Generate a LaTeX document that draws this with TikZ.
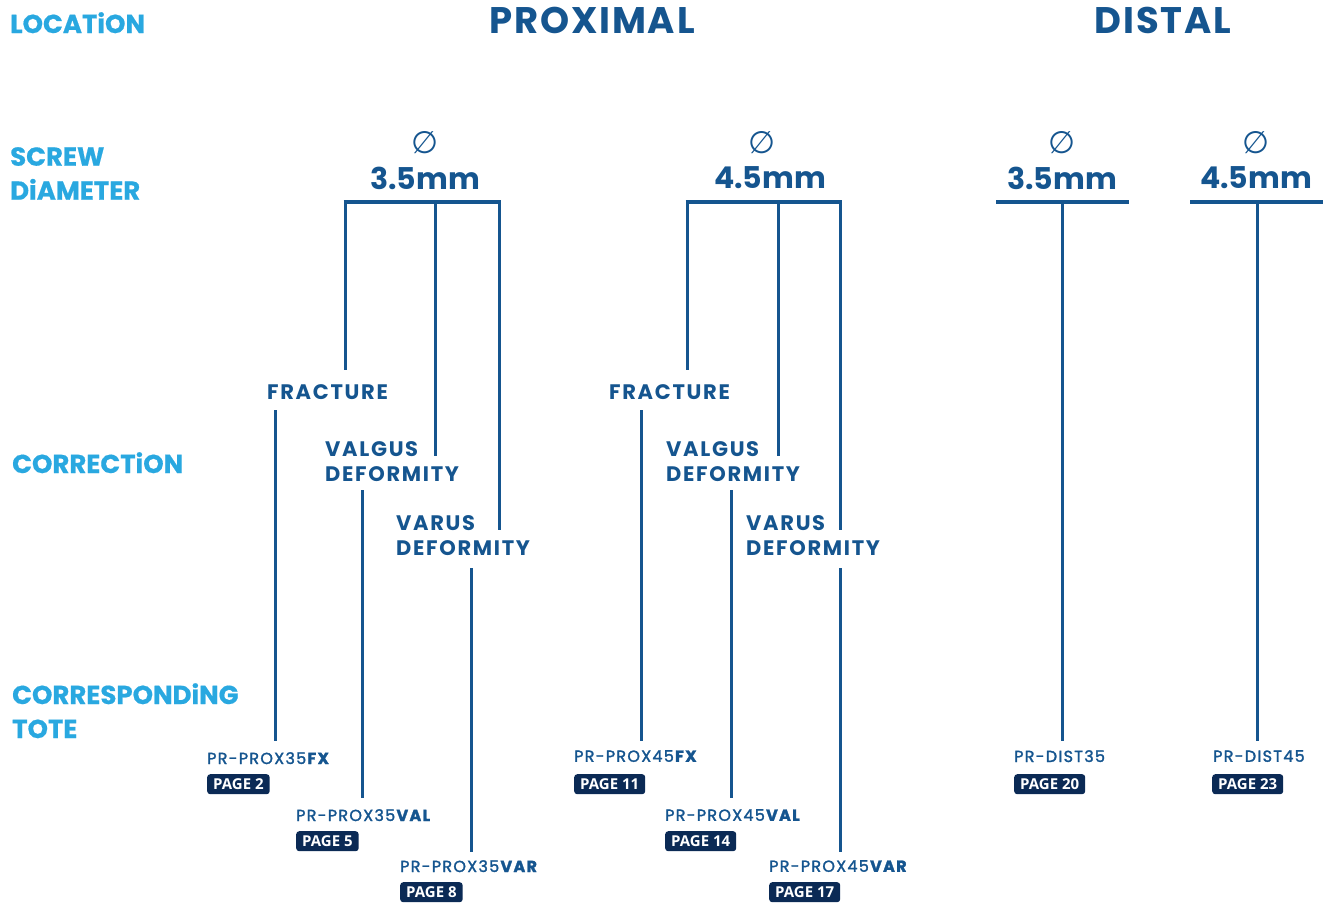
\documentclass[tikz,border=0pt]{standalone}
\usepackage{fontspec}
\setmainfont{Poppins}
\newfontfamily\badgefont{Open Sans}
\newfontfamily\symfont{DejaVu Sans}
\newfontfamily\totefont{Poppins}[FakeBold=1.8,LetterSpace=8]
\definecolor{dblue}{HTML}{15558F}
\definecolor{lblue}{HTML}{29A8E0}
\definecolor{navy}{HTML}{0B2A55}
\begin{document}
\begin{tikzpicture}[x=1pt,y=-1pt,
  cat/.style={font=\fontsize{26}{34}\selectfont\bfseries\addfontfeatures{FakeBold=0.6}, text=lblue, anchor=north west, inner sep=0, align=left},
  title/.style={font=\fontsize{37}{40}\selectfont\bfseries\addfontfeatures{LetterSpace=5}, text=dblue, inner sep=0},
  diasym/.style={font=\symfont\fontsize{31}{34}\selectfont, text=dblue, inner sep=0},
  dia/.style={font=\fontsize{30}{34}\selectfont\bfseries, text=dblue, inner sep=0},
  lbl/.style={font=\fontsize{21}{25}\selectfont\bfseries\addfontfeatures{LetterSpace=8}, text=dblue, anchor=north west, inner sep=0, align=left},
  tote/.style={font=\totefont\fontsize{16}{18}\selectfont, text=dblue, anchor=north west, inner sep=0},
  badge/.style={font=\badgefont\fontsize{15}{16}\selectfont\bfseries, fill=navy, text=white, rounded corners=3pt, anchor=north west, inner xsep=6pt, inner ysep=0pt, minimum height=20pt},
  conn/.style={draw=dblue, line width=3pt},
  bar/.style={draw=dblue, line width=4.5pt}]
\useasboundingbox (0,0) rectangle (1332,903);

% category labels
\node[cat] (loc) at (10,12) {LOCATiON};
\node[cat] (scr) at (10,147) {SCREW\\DiAMETER};
\node[cat] (cor) at (12,452) {CORRECTiON};
\node[cat] (tot) at (12,683) {CORRESPONDiNG\\TOTE};

% titles
\node[title] (prox) at (592,20) {PROXIMAL};
\node[title] (dist) at (1163,20) {DISTAL};

% diameters
\node[diasym] (s1) at (425,143) {∅};
\node[dia] (d1) at (425,178) {3.5mm};
\node[diasym] (s2) at (762,143) {∅};
\node[dia] (d2) at (770,178) {4.5mm};
\node[diasym] (s3) at (1062,143) {∅};
\node[dia] (d3) at (1062,178) {3.5mm};
\node[diasym] (s4) at (1256,143) {∅};
\node[dia] (d4) at (1256,178) {4.5mm};

% correction labels
\node[lbl] (f1) at (267,384) {FRACTURE};
\node[lbl] (vg1) at (325,441) {VALGUS\\DEFORMITY};
\node[lbl] (vr1) at (396,515) {VARUS\\DEFORMITY};
\node[lbl] (f2) at (609,384) {FRACTURE};
\node[lbl] (vg2) at (666,441) {VALGUS\\DEFORMITY};
\node[lbl] (vr2) at (746,515) {VARUS\\DEFORMITY};

% totes
\node[tote] (t1) at (207,752) {PR-PROX35\textbf{FX}};
\node[badge] (p1) at (207,774) {PAGE 2};
\node[tote] (t2) at (296,809) {PR-PROX35\textbf{VAL}};
\node[badge] (p2) at (296,831) {PAGE 5};
\node[tote] (t3) at (400,860) {PR-PROX35\textbf{VAR}};
\node[badge] (p3) at (400,882) {PAGE 8};
\node[tote] (t4) at (574,750) {PR-PROX45\textbf{FX}};
\node[badge] (p4) at (574,774) {PAGE 11};
\node[tote] (t5) at (665,809) {PR-PROX45\textbf{VAL}};
\node[badge] (p5) at (665,831) {PAGE 14};
\node[tote] (t6) at (769,860) {PR-PROX45\textbf{VAR}};
\node[badge] (p6) at (769,882) {PAGE 17};
\node[tote] (t7) at (1014,750) {PR-DIST35};
\node[badge] (p7) at (1014,774) {PAGE 20};
\node[tote] (t8) at (1213,750) {PR-DIST45};
\node[badge] (p8) at (1212,774) {PAGE 23};

% bars
\coordinate (b1l) at (345,202); \coordinate (b1m) at (435,202); \coordinate (b1r) at (499,202);
\coordinate (b2l) at (687,202); \coordinate (b2m) at (778,202); \coordinate (b2r) at (840,202);
\coordinate (b3l) at (996,202); \coordinate (b3m) at (1062,202); \coordinate (b3r) at (1129,202);
\coordinate (b4l) at (1190,202); \coordinate (b4m) at (1257,202); \coordinate (b4r) at (1323,202);
\draw[bar] ([xshift=-1.5pt]b1l) -- ([xshift=1.5pt]b1r);
\draw[bar] ([xshift=-1.5pt]b2l) -- ([xshift=1.5pt]b2r);
\draw[bar] (b3l) -- (b3r);
\draw[bar] (b4l) -- (b4r);

% bar to correction
\draw[conn] (b1l) -- (345,370);
\draw[conn] (b1m) -- (435,456);
\draw[conn] (b1r) -- (499,530);
\draw[conn] (b2l) -- (687,370);
\draw[conn] (b2m) -- (778,456);
\draw[conn] (b2r) -- (840,530);

% correction to tote
\draw[conn] (275,410) -- (275,741);
\draw[conn] (362,490) -- (362,798);
\draw[conn] (471,568) -- (471,852);
\draw[conn] (641,410) -- (641,741);
\draw[conn] (731,490) -- (731,798);
\draw[conn] (840,568) -- (840,852);

% distal
\draw[conn] (b3m) -- (1062,741);
\draw[conn] (b4m) -- (1257,741);
\end{tikzpicture}
\end{document}
